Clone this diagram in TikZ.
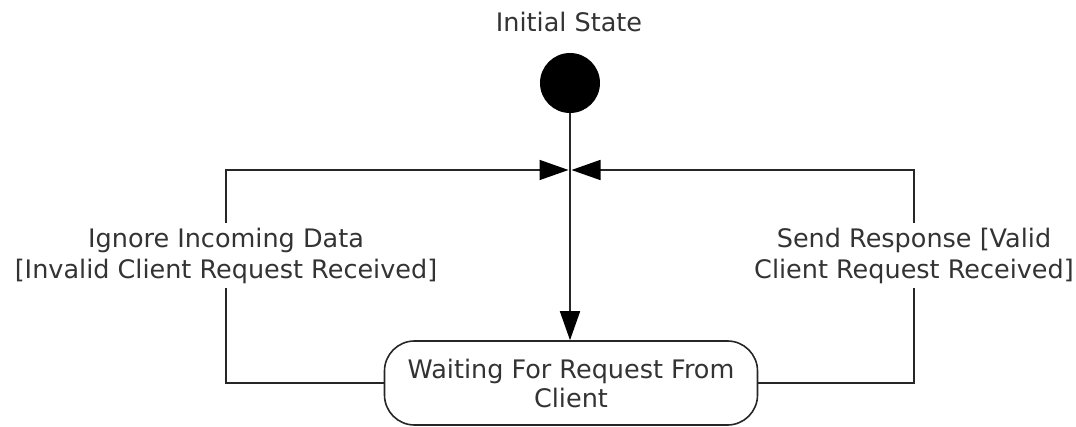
\documentclass[tikz,border=0pt]{standalone}
\usepackage{fontspec}
\setmainfont{DejaVu Sans}
\usetikzlibrary{arrows.meta}
\definecolor{txt}{HTML}{333333}
\begin{document}
\begin{tikzpicture}[x=1pt,y=-1pt,
  conn/.style={line width=1.6pt, draw=black!85, -{Triangle[length=29pt,width=20pt,color=black]}},
  state/.style={draw=black!85, line width=1.6pt, rounded corners=30pt, minimum width=373pt, minimum height=84pt, align=center, inner sep=0pt, text=txt, font=\fontsize{25.5}{29}\selectfont},
  initst/.style={circle, fill=black, minimum size=60pt, inner sep=0pt},
  lbl/.style={text=txt, font=\fontsize{25.5}{31}\selectfont},
  elabel/.style={lbl, fill=white, align=center, inner xsep=2pt, inner ysep=4.5pt}]
\fill[white] (0,0) rectangle (1076,427);
\useasboundingbox (0,0) rectangle (1076,427);
\node[state] (box) at (571,383) {Waiting For Request From\\Client};
\node[initst] (init) at (570,83) {};
\node[lbl, anchor=base] (title) at (569,32) {Initial State};
\coordinate (m) at (570,170);
\coordinate (lc) at (226,170);
\coordinate (rc) at (914,170);
\draw[conn] (init) -- (init |- box.north);
\draw[conn, shorten >=1.5pt] (box.west) -| (lc) -- (m);
\draw[conn, shorten >=1.5pt] (box.east) -| (rc) -- (m);
\node[elabel] (ignore) at (226,255.5) {Ignore Incoming Data\\{}[Invalid Client Request Received]};
\node[elabel] (send) at (914,255.5) {Send Response [Valid\\Client Request Received]};
\end{tikzpicture}
\end{document}
